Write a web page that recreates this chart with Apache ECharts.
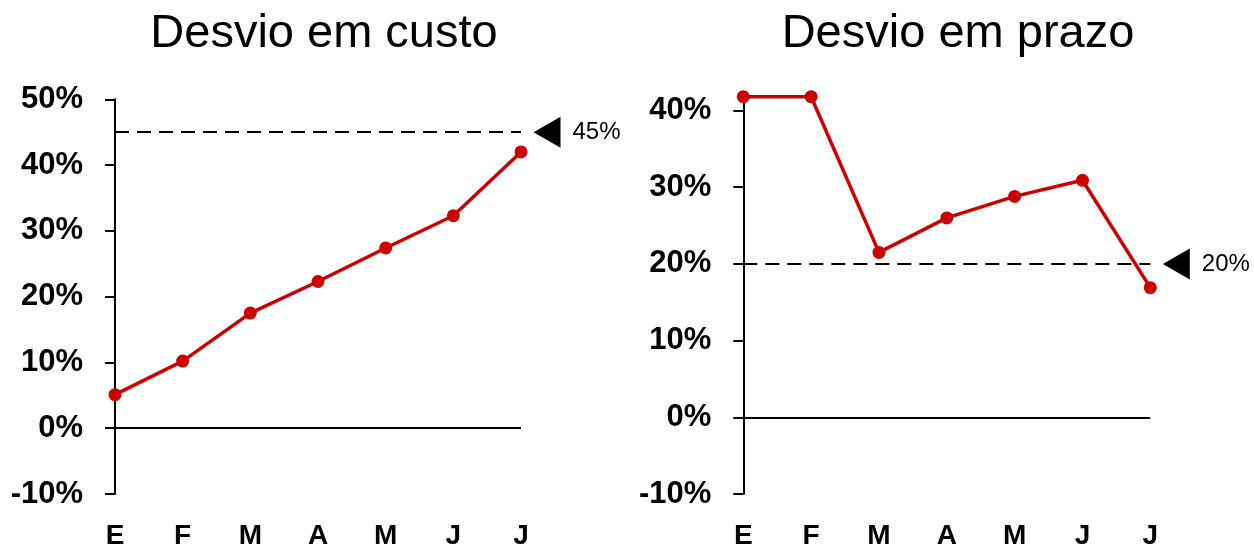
<!DOCTYPE html>
<html>
<head>
<meta charset="utf-8">
<script src="https://cdn.jsdelivr.net/npm/echarts@6/dist/echarts.min.js"></script>
<style>
  html, body { margin: 0; padding: 0; background: #fff; }
  #chart { width: 1254px; height: 550px; }
</style>
</head>
<body>
<div id="chart"></div>
<script>
// ---- data ----
var months = ['E', 'F', 'M', 'A', 'M', 'J', 'J'];
var custo = [5.1, 10.2, 17.5, 22.3, 27.4, 32.3, 42.0];
var prazo = [41.8, 41.8, 21.5, 26.0, 28.8, 30.9, 16.9];
var custoTarget = 45;
var prazoTarget = 20;
var custoTicks = [-10, 0, 10, 20, 30, 40, 50];
var prazoTicks = [-10, 0, 10, 20, 30, 40];
var titles = ['Desvio em custo', 'Desvio em prazo'];

// ---- styles ----
var FONT = 'Liberation Sans, Arial, sans-serif';
var RED = '#CC0000';
var triPath = 'path://M27,0 L27,31 L0,15.5 Z';

function yAxisCfg(gridIndex, min, max, ticks) {
  return {
    type: 'value', gridIndex: gridIndex, min: min, max: max, interval: 10,
    splitLine: { show: false },
    axisLine: { show: true, lineStyle: { color: '#000', width: 2 } },
    axisTick: { show: true, inside: false, length: 10, customValues: ticks, lineStyle: { color: '#000', width: 2 } },
    axisLabel: {
      customValues: ticks, margin: 32, color: '#000', fontSize: 31, fontWeight: 'bold', fontFamily: FONT,
      formatter: function (v) { return v + '%'; }
    }
  };
}
function xAxisCfg(gridIndex) {
  return {
    type: 'category', gridIndex: gridIndex, data: months, boundaryGap: false,
    axisLine: { show: false }, axisTick: { show: false }, splitLine: { show: false },
    axisLabel: { margin: 28, color: '#000', fontSize: 28, fontWeight: 'bold', fontFamily: FONT, interval: 0 }
  };
}
function seriesCfg(idx, data, target) {
  return {
    type: 'line', xAxisIndex: idx, yAxisIndex: idx, data: data, clip: false,
    symbol: 'circle', symbolSize: 13,
    itemStyle: { color: RED },
    lineStyle: { color: RED, width: 3.5 },
    z: 5,
    markLine: {
      silent: true, symbol: ['none', 'none'], label: { show: false },
      data: [
        { yAxis: 0, lineStyle: { color: '#000', type: 'solid', width: 1.8 } },
        { yAxis: target, lineStyle: { color: '#000', type: [14, 8], width: 2 } }
      ]
    },
    markPoint: {
      silent: true,
      data: [{
        coord: [months.length - 1, target],
        symbol: triPath, symbolSize: [27, 31], symbolOffset: [26, 0],
        itemStyle: { color: '#000' },
        label: {
          show: true, position: 'right', distance: 12, color: '#000', fontSize: 24, fontFamily: FONT,
          formatter: target + '%'
        }
      }]
    }
  };
}

var chart = echarts.init(document.getElementById('chart'), null, { renderer: 'canvas' });
chart.setOption({
  animation: false,
  backgroundColor: '#fff',
  title: [
    { text: titles[0], left: 319, top: 6, textAlign: 'center', textStyle: { fontSize: 47, fontWeight: 'normal', color: '#000', fontFamily: FONT } },
    { text: titles[1], left: 953, top: 6, textAlign: 'center', textStyle: { fontSize: 47, fontWeight: 'normal', color: '#000', fontFamily: FONT } }
  ],
  grid: [
    { left: 115, top: 99.3, width: 406, height: 396.4 },
    { left: 743.3, top: 99, width: 407, height: 396.7 }
  ],
  xAxis: [xAxisCfg(0), xAxisCfg(1)],
  yAxis: [yAxisCfg(0, -10, 50, custoTicks), yAxisCfg(1, -10, 41.5, prazoTicks)],
  series: [seriesCfg(0, custo, custoTarget), seriesCfg(1, prazo, prazoTarget)]
});
</script>
</body>
</html>
